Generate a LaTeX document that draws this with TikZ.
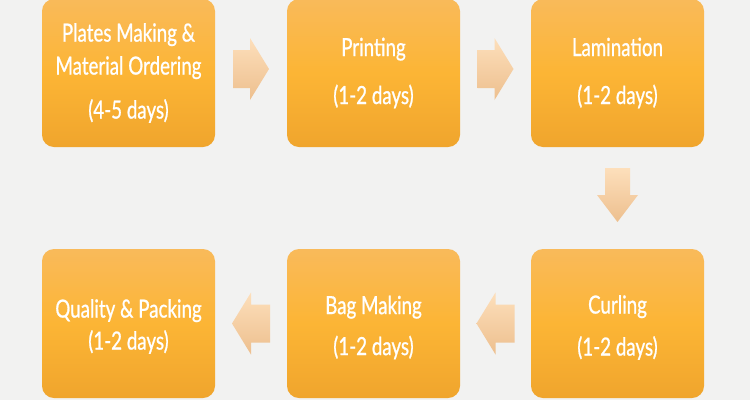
\documentclass[tikz,border=0pt]{standalone}
\usepackage{fontspec}
\setmainfont{Lato}[FakeStretch=0.75,FakeBold=0.8]
\usetikzlibrary{calc}
\definecolor{bg}{HTML}{F2F2F1}
\definecolor{boxtop}{HTML}{F9BA5A}
\definecolor{boxmid}{HTML}{FCB535}
\definecolor{boxbot}{HTML}{F0A52D}
\definecolor{arrtop}{HTML}{FDDFBB}
\definecolor{arrbot}{HTML}{EDBF8E}
\begin{document}
\begin{tikzpicture}[x=1pt,y=1pt,
  stagebox/.style={rectangle, rounded corners=12pt, minimum width=173pt,
    minimum height=148pt, top color=boxtop, bottom color=boxbot,
    middle color=boxmid, text=white, align=center,
    font=\fontsize{25}{33}\selectfont, inner sep=0pt},
  stagetext/.style={text=white, align=center, font=\fontsize{25}{33}\selectfont, inner sep=0pt},
  blockarrow/.style={top color=arrtop, bottom color=arrbot, draw=none}]
\fill[bg] (0,0) rectangle (750,-400);
\useasboundingbox (0,0) rectangle (750,-400);
% top row
\node[stagebox] (plates) at (128.5,-73) {Plates Making \&\\Material Ordering\\[11pt](4-5 days)};
\node[stagebox] (printing) at (373.5,-73) {Printing\\[15pt](1-2 days)};
\node[stagebox] (lamination) at (617.5,-73) {Lamination\\[15pt](1-2 days)};
% bottom row
\node[stagebox, minimum height=149pt,
  label={[stagetext, yshift=-4pt]center:Curling\\[9pt](1-2 days)}] (curling) at (617.5,-323.5) {};
\node[stagebox, minimum height=149pt,
  label={[stagetext, yshift=-4pt]center:Bag Making\\[8pt](1-2 days)}] (bagmaking) at (373.5,-323.5) {};
\node[stagebox, minimum height=149pt,
  label={[stagetext, yshift=-3pt]center:Quality \& Packing\\[-1pt](1-2 days)}] (quality) at (128.5,-323.5) {};
% arrow anchors
\coordinate (a1) at ($(plates.east)!0.5!(printing.west)+(0,4)$);
\coordinate (a2) at ($(printing.east)!0.5!(lamination.west)+(0,4)$);
\coordinate (a3) at ($(lamination.south)!0.5!(curling.north)+(0,3)$);
\coordinate (a4) at ($(curling.west)!0.5!(bagmaking.east)$);
\coordinate (a5) at ($(bagmaking.west)!0.5!(quality.east)$);
% right arrows
\path[blockarrow, shift={(a1)}] (-18,19) -- (-1,19) -- (-1,31) -- (18,0) -- (-1,-31) -- (-1,-19) -- (-18,-19) -- cycle;
\path[blockarrow, shift={(a2)}] (-18,19) -- (-1,19) -- (-1,31) -- (18,0) -- (-1,-31) -- (-1,-19) -- (-18,-19) -- cycle;
% down arrow
\path[blockarrow, shift={(a3)}] (-12.5,27) -- (12.5,27) -- (12.5,0) -- (20.5,0) -- (0,-27) -- (-20.5,0) -- (-12.5,0) -- cycle;
% left arrows
\path[blockarrow, shift={(a4)}] (19,19) -- (0,19) -- (0,31) -- (-19,0) -- (0,-31) -- (0,-19) -- (19,-19) -- cycle;
\path[blockarrow, shift={(a5)}] (19,19) -- (0,19) -- (0,31) -- (-19,0) -- (0,-31) -- (0,-19) -- (19,-19) -- cycle;
\end{tikzpicture}
\end{document}
